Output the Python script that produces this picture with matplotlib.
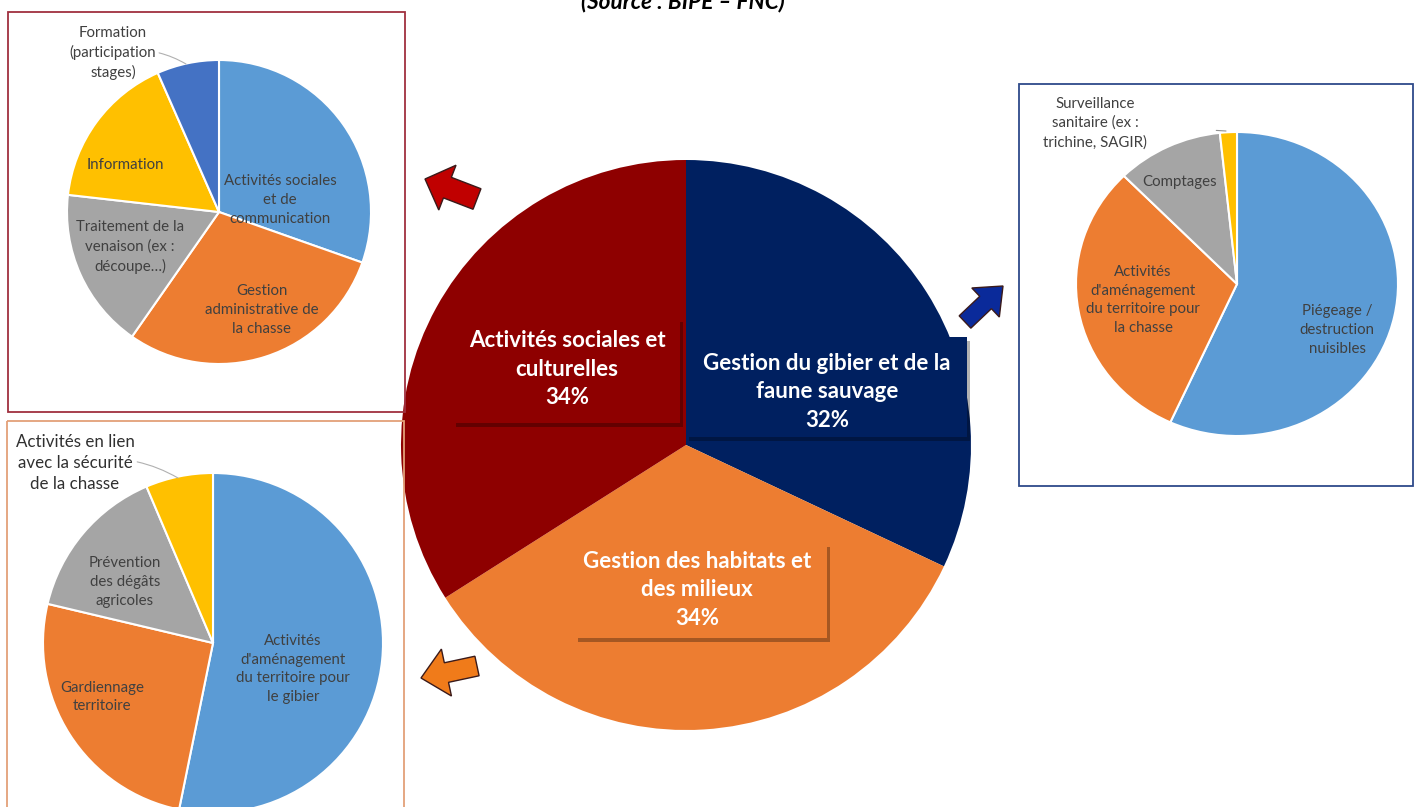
import matplotlib
matplotlib.use("Agg")
import matplotlib.pyplot as plt
import matplotlib.patches as mpatches
import matplotlib.patheffects as pe

# ---- data -------------------------------------------------------------
main_labels = ["Gestion du gibier et de la\nfaune sauvage",
               "Gestion des habitats et\ndes milieux",
               "Activités sociales et\nculturelles"]
main_values = [32, 34, 34]

social_labels = ["Activités sociales\net de\ncommunication",
                 "Gestion\nadministrative de\nla chasse",
                 "Traitement de la\nvenaison (ex :\ndécoupe…)",
                 "Information",
                 "Formation\n(participation\nstages)"]
social_values = [30.4, 29.3, 17.1, 16.6, 6.6]

habitat_labels = ["Activités\nd'aménagement\ndu territoire pour\nle gibier",
                  "Gardiennage\nterritoire",
                  "Prévention\ndes dégâts\nagricoles",
                  "Activités en lien\navec la sécurité\nde la chasse"]
habitat_values = [53.2, 25.5, 14.9, 6.4]

gibier_labels = ["Piégeage /\ndestruction\nnuisibles",
                 "Activités\nd'aménagement\ndu territoire pour\nla chasse",
                 "Comptages",
                 "Surveillance\nsanitaire (ex :\ntrichine, SAGIR)"]
gibier_values = [56.8, 30.8, 10.7, 1.7]

SOURCE = "(Source : BIPE – FNC)"

# ---- style ------------------------------------------------------------
W, H = 1419, 807
FONT = ["Lato", "DejaVu Sans"]
MAIN_COLORS = ["#002060", "#ED7D31", "#8E0000"]
SUB_BLUE, SUB_ORANGE, SUB_GRAY, SUB_YELLOW, SUB_DBLUE = (
    "#5B9BD5", "#ED7D31", "#A5A5A5", "#FFC000", "#4472C4")
TXT = "#404040"
SUB_SIZE = 10.8
SUB_LS = 1.45

plt.rcParams["font.family"] = FONT

fig = plt.figure(figsize=(W / 100, H / 100), dpi=100)


def pie_axes(cx, cy, rx, ry=None):
    ry = rx if ry is None else ry
    return fig.add_axes([(cx - rx) / W, 1 - (cy + ry) / H, 2 * rx / W, 2 * ry / H])


def draw_pie(ax, values, colors, edge="white", lw=1.5):
    ax.pie(values, colors=colors, startangle=90, counterclock=False, radius=1,
           wedgeprops=dict(edgecolor=edge, linewidth=lw))
    ax.set_xlim(-1, 1)
    ax.set_ylim(-1, 1)
    ax.set_aspect("auto")
    ax.axis("off")


# main pie
ax_main = pie_axes(686, 445, 285)
draw_pie(ax_main, main_values, MAIN_COLORS, edge="none", lw=0)

# detail pies
ax_soc = pie_axes(219, 212, 152)
draw_pie(ax_soc, social_values, [SUB_BLUE, SUB_ORANGE, SUB_GRAY, SUB_YELLOW, SUB_DBLUE])

ax_hab = pie_axes(213, 643, 170)
draw_pie(ax_hab, habitat_values, [SUB_BLUE, SUB_ORANGE, SUB_GRAY, SUB_YELLOW])

ax_gib = pie_axes(1237, 284, 161, 152)
draw_pie(ax_gib, gibier_values, [SUB_BLUE, SUB_ORANGE, SUB_GRAY, SUB_YELLOW])

# overlay in pixel coordinates
ov = fig.add_axes([0, 0, 1, 1])
ov.set_xlim(0, W)
ov.set_ylim(H, 0)
ov.axis("off")
ov.set_zorder(10)

# frames around the detail pies
ov.add_patch(mpatches.Rectangle((8, 12), 397, 400, fill=False, ec="#A0303F", lw=1.3))
ov.add_patch(mpatches.Rectangle((7, 421), 397, 400, fill=False, ec="#E3A078", lw=1.3))
ov.add_patch(mpatches.Rectangle((1019, 84), 394, 402, fill=False, ec="#2E4A8A", lw=1.3))

# main labels with shadowed boxes
main_pct = [f"{v}%" for v in main_values]
boxes = [(686, 337, 967, 437), (575, 543, 827, 638), (453, 318, 680, 423)]
text_pos = [(827, 392), (697, 590), (567, 369)]
for lab, pct, col, (x0, y0, x1, y1), (tx, ty) in zip(main_labels, main_pct, MAIN_COLORS, boxes, text_pos):
    r = mpatches.Rectangle((x0, y0), x1 - x0, y1 - y0, fc=col, ec="none")
    r.set_path_effects([pe.SimplePatchShadow(offset=(2, -3), shadow_rgbFace="black", alpha=0.3),
                        pe.Normal()])
    ov.add_patch(r)
    ov.text(tx, ty, f"{lab}\n{pct}", color="white", fontsize=16, fontweight="bold",
            ha="center", va="center", linespacing=1.45)


def lbl(x, y, s, size=SUB_SIZE, color=TXT):
    ov.text(x, y, s, ha="center", va="center", fontsize=size, color=color, linespacing=SUB_LS)


lbl(280, 200, social_labels[0])
lbl(262, 310, social_labels[1])
lbl(130, 247, social_labels[2])
lbl(125, 165, social_labels[3])
ov.annotate(social_labels[4], xy=(186, 64), xytext=(113, 53), ha="center", va="center",
            fontsize=SUB_SIZE, color=TXT, linespacing=SUB_LS,
            arrowprops=dict(arrowstyle="-", color="#B0B0B0", lw=0.8,
                            connectionstyle="arc3,rad=-0.2", shrinkA=38, shrinkB=0))

lbl(293, 669, habitat_labels[0])
lbl(102, 697, habitat_labels[1])
lbl(125, 582, habitat_labels[2])
ov.annotate(habitat_labels[3], xy=(178, 478), xytext=(75, 463), ha="center", va="center",
            fontsize=12.2, color="#303030", linespacing=1.4,
            arrowprops=dict(arrowstyle="-", color="#B0B0B0", lw=0.8,
                            connectionstyle="arc3,rad=-0.2", shrinkA=50, shrinkB=0))

lbl(1337, 330, gibier_labels[0])
lbl(1143, 300, gibier_labels[1])
lbl(1180, 182, gibier_labels[2])
ov.annotate(gibier_labels[3], xy=(1226, 131), xytext=(1095, 123), ha="center", va="center",
            fontsize=SUB_SIZE, color=TXT, linespacing=SUB_LS,
            arrowprops=dict(arrowstyle="-", color="#909090", lw=0.8, shrinkA=48, shrinkB=0))

# block arrows pointing to the detail pies
arrows = [((477, 199), (425, 179), "#C00000", 22, 48, 24),
          ((477, 666), (421, 678), "#F07B1A", 20, 48, 26),
          ((965, 322), (1003, 286), "#0A2A9A", 17, 40, 24)]
for (xt, yt), (xh, yh), col, w, hw, hl in arrows:
    ov.add_patch(mpatches.FancyArrow(xt, yt, xh - xt, yh - yt, width=w, head_width=hw,
                                     head_length=hl, length_includes_head=True,
                                     fc=col, ec="#3A1A1A", lw=1))

# source line, cut at the top edge as in the original
ov.text(683, 8, SOURCE, ha="center", va="baseline", fontsize=16.3, fontweight="bold",
        fontstyle="italic", color="black")

fig.savefig("out.png", dpi=100)
